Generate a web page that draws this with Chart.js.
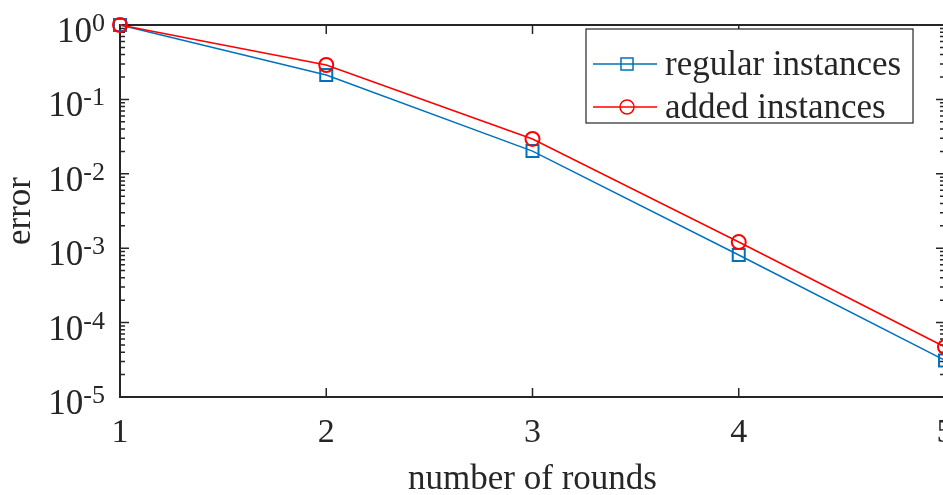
<!DOCTYPE html>
<html>
<head>
<meta charset="utf-8">
<script src="https://cdn.jsdelivr.net/npm/chart.js@4/dist/chart.umd.min.js"></script>
<style>
  html, body { margin: 0; padding: 0; background: #fff; overflow: hidden; }
  #wrap { position: absolute; left: 0; top: 0; width: 960px; height: 495px; }
</style>
</head>
<body>
<div id="wrap"><canvas id="c" width="960" height="495"></canvas></div>
<script>
// Convergence of the error over successive rounds
const rounds = [1, 2, 3, 4, 5];
const regularError = [1.0, 0.213, 0.0202, 8.1e-4, 3.1e-5];
const addedError = [1.0, 0.29, 0.0294, 1.21e-3, 4.7e-5];
const seriesNames = ['regular instances', 'added instances'];
const yDecades = [0, -1, -2, -3, -4, -5];
const xTickValues = [1, 2, 3, 4, 5];
const xTitle = 'number of rounds';
const yTitle = 'error';

const AXIS = '#262626';
const SERIF = '"Liberation Serif", "Times New Roman", Times, serif';
const BLUE = '#0072BD';
const RED = '#FF0000';

const toPoints = vals => rounds.map((r, i) => ({ x: r, y: vals[i] }));

// Box, inward ticks and exponent-style y labels
const framePlugin = {
  id: 'frame',
  beforeDatasetsDraw(chart) {
    const { ctx, chartArea: a, scales: { x, y } } = chart;
    ctx.save();
    ctx.strokeStyle = AXIS;
    ctx.lineWidth = 2;
    ctx.strokeRect(a.left, a.top, a.right - a.left, a.bottom - a.top);

    ctx.lineWidth = 1.5;
    ctx.beginPath();
    const lo = Math.pow(10, Math.min(...yDecades));
    const hi = Math.pow(10, Math.max(...yDecades));
    yDecades.forEach(d => {
      for (let m = 1; m <= 9; m++) {
        const v = m * Math.pow(10, d);
        if (v > hi * 1.0001 || v < lo * 0.9999) continue;
        const py = y.getPixelForValue(v);
        const len = m === 1 ? 9 : 5;
        ctx.moveTo(a.left, py); ctx.lineTo(a.left + len, py);
        ctx.moveTo(a.right, py); ctx.lineTo(a.right - len, py);
      }
    });
    xTickValues.forEach(v => {
      const px = x.getPixelForValue(v);
      ctx.moveTo(px, a.bottom); ctx.lineTo(px, a.bottom - 9);
      ctx.moveTo(px, a.top); ctx.lineTo(px, a.top + 9);
    });
    ctx.stroke();

    ctx.fillStyle = AXIS;
    ctx.textAlign = 'right';
    ctx.textBaseline = 'alphabetic';
    const rightEdge = a.left - 15;
    yDecades.forEach(e => {
      const py = y.getPixelForValue(Math.pow(10, e));
      const exp = String(e);
      ctx.font = '26px ' + SERIF;
      const w = ctx.measureText(exp).width;
      ctx.fillText(exp, rightEdge, py + 6);
      ctx.font = '35px ' + SERIF;
      ctx.fillText('10', rightEdge - w, py + 17);
    });
    ctx.restore();
  },
  afterDraw(chart) {
    const { ctx, chartArea: a } = chart;
    const bx = a.right - 359, by = a.top + 4, bw = 327, bh = 94;
    ctx.save();
    ctx.fillStyle = '#fff';
    ctx.fillRect(bx, by, bw, bh);
    ctx.strokeStyle = AXIS;
    ctx.lineWidth = 1.2;
    ctx.strokeRect(bx, by, bw, bh);
    chart.data.datasets.forEach((ds, i) => {
      const ry = by + 35 + i * 43;
      ctx.strokeStyle = ds.borderColor;
      ctx.lineWidth = ds.borderWidth;
      ctx.beginPath();
      ctx.moveTo(bx + 7, ry); ctx.lineTo(bx + 71, ry);
      ctx.stroke();
      ctx.fillStyle = 'rgba(0,0,0,0)';
      Chart.helpers.drawPoint(ctx, {
        pointStyle: ds.pointStyle,
        radius: ds.pointRadius,
        rotation: 0,
        borderWidth: ds.pointBorderWidth
      }, bx + 41, ry);
      ctx.fillStyle = AXIS;
      ctx.font = '35px ' + SERIF;
      ctx.textAlign = 'left';
      ctx.textBaseline = 'alphabetic';
      ctx.fillText(ds.label, bx + 79, ry + 11);
    });
    ctx.restore();
  }
};

new Chart(document.getElementById('c'), {
  type: 'line',
  data: {
    datasets: [
      {
        label: seriesNames[0],
        data: toPoints(regularError),
        borderColor: BLUE,
        backgroundColor: 'rgba(0,0,0,0)',
        borderWidth: 1.5,
        pointStyle: 'rect',
        pointRadius: 8.5,
        pointBorderWidth: 2,
        pointBorderColor: BLUE,
        pointBackgroundColor: 'rgba(0,0,0,0)',
        tension: 0,
        order: 2,
        clip: false
      },
      {
        label: seriesNames[1],
        data: toPoints(addedError),
        borderColor: RED,
        backgroundColor: 'rgba(0,0,0,0)',
        borderWidth: 1.5,
        pointStyle: 'circle',
        pointRadius: 7,
        pointBorderWidth: 2,
        pointBorderColor: RED,
        pointBackgroundColor: 'rgba(0,0,0,0)',
        tension: 0,
        order: 1,
        clip: false
      }
    ]
  },
  options: {
    responsive: false,
    animation: false,
    events: [],
    layout: { padding: { top: 25, right: 15, left: 0, bottom: 0 } },
    plugins: { legend: { display: false }, tooltip: { enabled: false } },
    scales: {
      x: {
        type: 'linear',
        min: 1,
        max: 5,
        grid: { display: false, drawTicks: false },
        border: { display: false },
        ticks: {
          stepSize: 1,
          padding: 16,
          color: AXIS,
          font: { family: SERIF, size: 34 }
        },
        title: {
          display: true,
          text: xTitle,
          color: AXIS,
          font: { family: SERIF, size: 35 },
          padding: { top: 0, bottom: -6 }
        },
        afterFit(scale) {
          scale.height = 98;
          scale.paddingLeft = 0;
          scale.paddingRight = 0;
        }
      },
      y: {
        type: 'logarithmic',
        min: Math.pow(10, Math.min(...yDecades)),
        max: Math.pow(10, Math.max(...yDecades)),
        grid: { display: false, drawTicks: false },
        border: { display: false },
        ticks: { display: false },
        title: {
          display: true,
          text: yTitle,
          color: AXIS,
          font: { family: SERIF, size: 35 },
          padding: { top: 0, bottom: 0 }
        },
        afterFit(scale) {
          scale.width = 120;
          scale.paddingTop = 0;
          scale.paddingBottom = 0;
        }
      }
    }
  },
  plugins: [framePlugin]
});
</script>
</body>
</html>
